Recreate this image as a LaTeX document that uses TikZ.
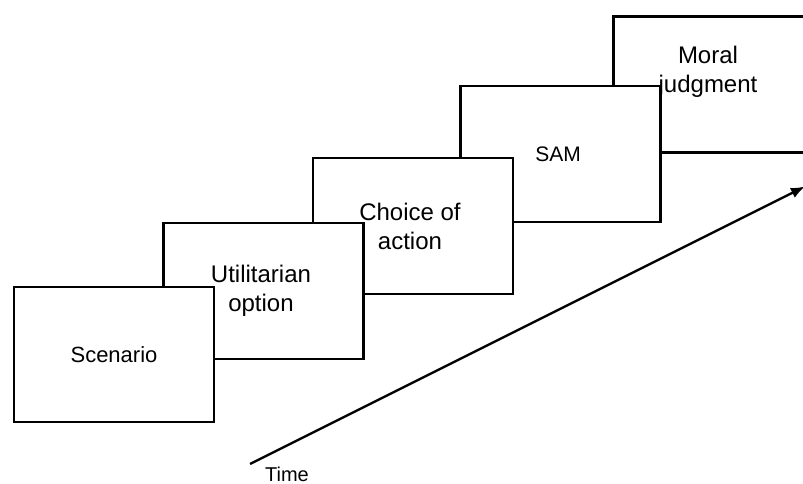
\documentclass[tikz,border=0pt]{standalone}
\usepackage{fontspec}
\setmainfont{Liberation Sans}
\usetikzlibrary{arrows.meta}
\begin{document}
\begin{tikzpicture}[x=1pt,y=-1pt,
  stage/.style={draw=black,fill=white,line width=2.4pt,rectangle,
    minimum width=200pt,minimum height=136pt,inner sep=0pt,
    align=center,font=\fontsize{24}{29}\selectfont},
  caption/.style={align=center,inner sep=0pt,font=\fontsize{24}{29}\selectfont}]
\useasboundingbox (0,0) rectangle (803,484);
\clip (0,0) rectangle (803,484);
% stages, drawn from the back to the front
\node[stage,anchor=north west,line width=2.8pt] (moral) at (612,15) {};
\node[caption] (moraltext) at (708,72) {Moral\\judgment};
\node[stage] (sam) at (560.5,154) {\fontsize{21}{25}\selectfont\hspace*{-5pt}SAM};
\node[stage] (choice) at (413,226) {\hspace*{-6pt}Choice of\\\hspace*{-6pt}action};
\node[stage] (util) at (263.5,291) {\hspace*{-5pt}Utilitarian\\\hspace*{-5pt}option};
\node[stage,minimum height=135pt] (scen) at (114,354.5) {\fontsize{22}{26}\selectfont Scenario};
% time axis
\coordinate (tstart) at (250,464);
\coordinate (tend) at (805,186.5);
\draw[line width=2.4pt,-{Latex[length=14pt,width=11pt]}] (tstart) -- (tend);
\node[font=\fontsize{20}{24}\selectfont,anchor=base] (time) at (287,481) {Time};
\end{tikzpicture}
\end{document}
